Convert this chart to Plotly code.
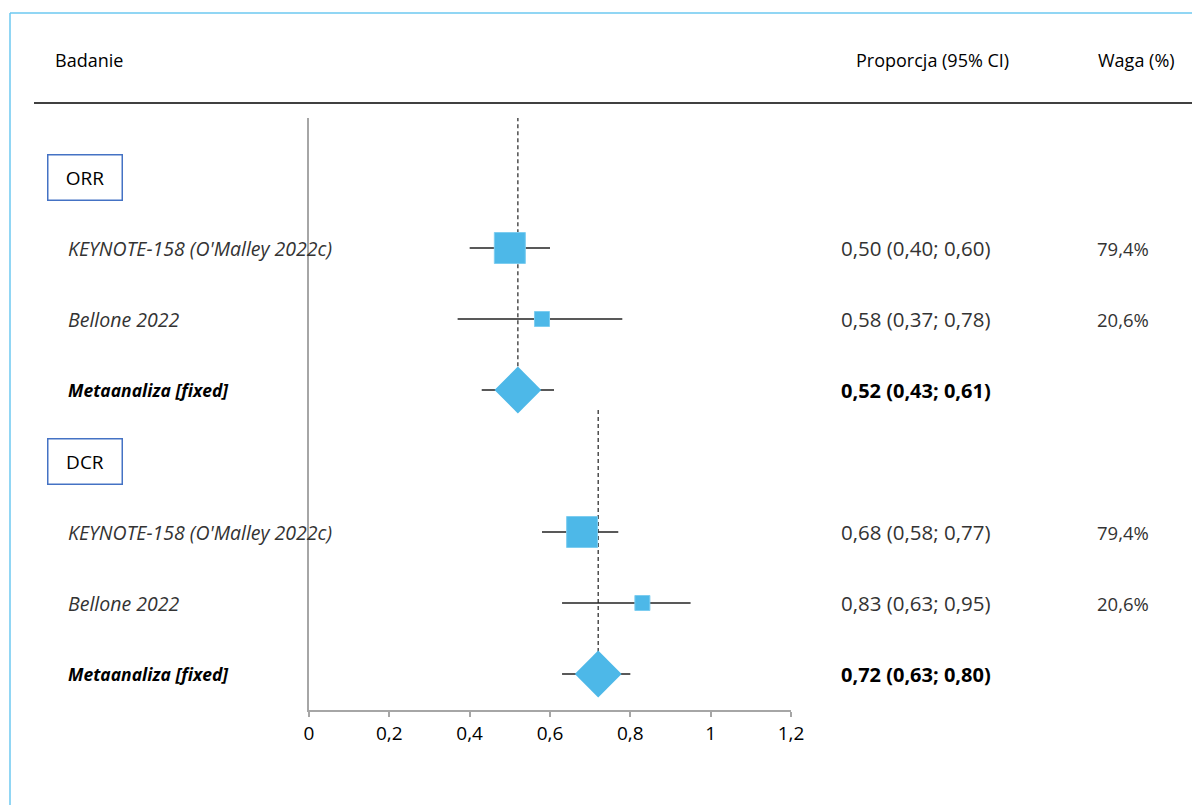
import plotly.graph_objects as go

# ---------------- data ----------------
groups = ["ORR", "DCR"]
studies = ["KEYNOTE-158 (O'Malley 2022c)", "Bellone 2022"]
meta_label = "Metaanaliza [fixed]"

orr_est = [0.50, 0.58]
orr_low = [0.40, 0.37]
orr_high = [0.60, 0.78]
orr_meta = [0.52, 0.43, 0.61]

dcr_est = [0.68, 0.83]
dcr_low = [0.58, 0.63]
dcr_high = [0.77, 0.95]
dcr_meta = [0.72, 0.63, 0.80]

weights = [79.4, 20.6]
tick_vals = [0, 0.2, 0.4, 0.6, 0.8, 1.0, 1.2]
tick_text = ["0", "0,2", "0,4", "0,6", "0,8", "1", "1,2"]

# ---------------- layout helpers ----------------
OFF = 0
W, H = 1192, 805
FONT = "Open Sans"
BLUE = "#4DB8E8"


def px_x(p):
    return (p - OFF) / W


def px_y(p):
    return 1 - (p - OFF) / H


def fmt(v):
    return f"{v:.2f}".replace(".", ",")


fig = go.Figure()

annotations = []
sections = [
    (groups[0], orr_est, orr_low, orr_high, orr_meta, 0),
    (groups[1], dcr_est, dcr_low, dcr_high, dcr_meta, 4),
]

for gi, (name, est, low, high, meta, base) in enumerate(sections):
    # group box
    annotations.append(dict(
        x=px_x(85), y=base, xref="paper", yref="y", text=name,
        showarrow=False, xanchor="center", yanchor="middle",
        font=dict(family=FONT, size=19, color="#000"),
        bordercolor="#4472C4", borderwidth=1.5, borderpad=0,
        width=73, height=44, bgcolor="white"))
    # dashed pooled line
    y_top = -0.84 if gi == 0 else base - 0.72
    fig.add_trace(go.Scatter(
        x=[meta[0], meta[0]], y=[y_top, base + 3], mode="lines",
        line=dict(color="#333", width=1.3, dash="4px,3px"),
        hoverinfo="skip", showlegend=False))
    # studies
    for i in range(len(est)):
        row = base + 1 + i
        fig.add_trace(go.Scatter(
            x=[low[i], high[i]], y=[row, row], mode="lines",
            line=dict(color="#222", width=1.5),
            hoverinfo="skip", showlegend=False))
        size = 31 if weights[i] > 50 else 15
        fig.add_trace(go.Scatter(
            x=[est[i]], y=[row], mode="markers",
            marker=dict(symbol="square", size=size, color=BLUE,
                        line=dict(color="#7DCDF0", width=1)),
            hoverinfo="skip", showlegend=False))
        annotations.append(dict(
            x=px_x(66), y=row, xref="paper", yref="y",
            text=f"<i>{studies[i]}</i>", showarrow=False,
            xanchor="left", yanchor="middle",
            font=dict(family=FONT, size=19.5, color="#333")))
        annotations.append(dict(
            x=px_x(839), y=row, xref="paper", yref="y",
            text=f"{fmt(est[i])} ({fmt(low[i])}; {fmt(high[i])})",
            showarrow=False, xanchor="left", yanchor="middle",
            font=dict(family=FONT, size=20.5, color="#333")))
        annotations.append(dict(
            x=px_x(1095), y=row, xref="paper", yref="y",
            text=f"{weights[i]:.1f}%".replace(".", ","),
            showarrow=False, xanchor="left", yanchor="middle",
            font=dict(family=FONT, size=18.5, color="#333")))
    # meta row
    mrow = base + 3
    fig.add_trace(go.Scatter(
        x=[meta[1], meta[2]], y=[mrow, mrow], mode="lines",
        line=dict(color="#222", width=1.5),
        hoverinfo="skip", showlegend=False))
    fig.add_trace(go.Scatter(
        x=[meta[0]], y=[mrow], mode="markers",
        marker=dict(symbol="diamond", size=36, color=BLUE,
                    line=dict(width=0)),
        hoverinfo="skip", showlegend=False))
    annotations.append(dict(
        x=px_x(66), y=mrow, xref="paper", yref="y",
        text=f"<b><i>{meta_label}</i></b>", showarrow=False,
        xanchor="left", yanchor="middle",
        font=dict(family=FONT, size=17.5, color="#000")))
    annotations.append(dict(
        x=px_x(839), y=mrow, xref="paper", yref="y",
        text=f"<b>{fmt(meta[0])} ({fmt(meta[1])}; {fmt(meta[2])})</b>",
        showarrow=False, xanchor="left", yanchor="middle",
        font=dict(family=FONT, size=20, color="#000")))

# headers
for txt, xp in [("Badanie", 53), ("Proporcja (95% CI)", 854), ("Waga (%)", 1096)]:
    annotations.append(dict(
        x=px_x(xp), y=px_y(60), xref="paper", yref="paper", text=txt,
        showarrow=False, xanchor="left", yanchor="middle",
        font=dict(family=FONT, size=18, color="#000")))

shapes = [
    # header rule
    dict(type="line", xref="paper", yref="paper", x0=px_x(34), x1=1.01,
         y0=px_y(103), y1=px_y(103), line=dict(color="#000", width=1.5)),
    # outer frame (top and left edges visible)
    dict(type="line", xref="paper", yref="paper", x0=px_x(10), x1=1.01,
         y0=px_y(13), y1=px_y(13), line=dict(color="#6CC8F0", width=1.5)),
    dict(type="line", xref="paper", yref="paper", x0=px_x(10), x1=px_x(10),
         y0=px_y(13), y1=-0.02, line=dict(color="#6CC8F0", width=1.5)),
]

fig.update_layout(
    width=W, height=H,
    margin=dict(l=0, r=0, t=0, b=0, autoexpand=False),
    paper_bgcolor="white", plot_bgcolor="white",
    annotations=annotations, shapes=shapes,
    showlegend=False,
    xaxis=dict(
        domain=[px_x(309), px_x(791)], range=[0, 1.2],
        tickvals=tick_vals, ticktext=tick_text, automargin=False,
        showline=True, linecolor="#A6A6A6", linewidth=1.5,
        ticks="outside", ticklen=5, tickcolor="#A6A6A6", tickwidth=1.5,
        showgrid=False, zeroline=False,
        tickfont=dict(family=FONT, size=19, color="#000"),
    ),
    yaxis=dict(
        domain=[px_y(710), px_y(118)], range=[7.507, -0.831],
        automargin=False,
        showline=True, linecolor="#A6A6A6", linewidth=1.5,
        showticklabels=False, ticks="", showgrid=False, zeroline=False,
    ),
)

fig.write_html(
    "out.html",
    config={"displayModeBar": False},
    post_script="document.body.style.margin='0';document.body.style.overflow='hidden';",
)
